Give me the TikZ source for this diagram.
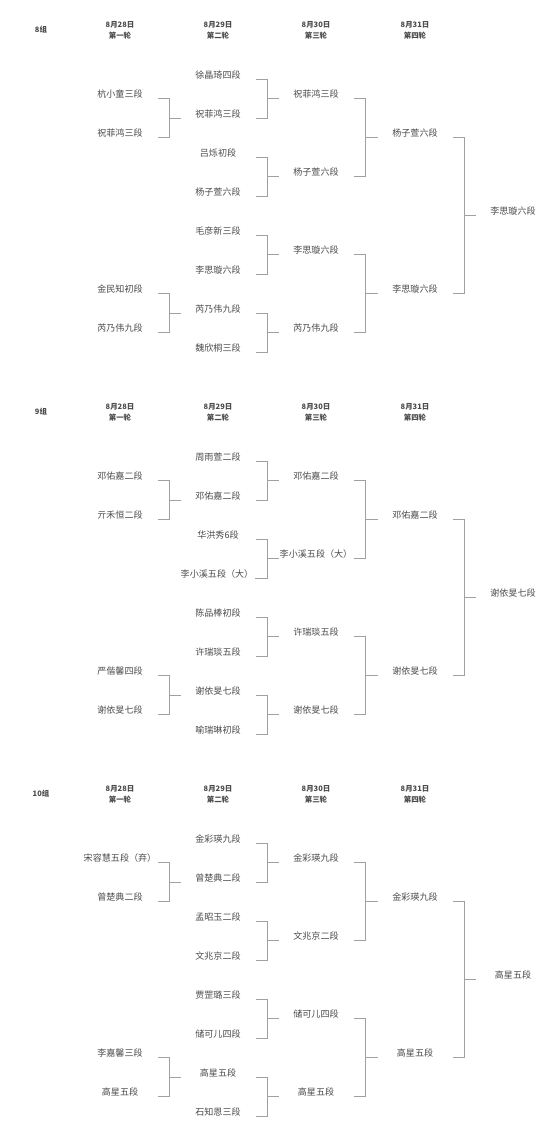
\documentclass[tikz,border=0pt]{standalone}
\usepackage{fontspec}
\newfontfamily\cjk{Noto Sans CJK SC}
\definecolor{txt}{HTML}{4A4A4A}
\definecolor{lnc}{HTML}{A0A0A0}
% player slot: name, column centre x, line y, text
\newcommand\pl[4]{%
  \node[nm] (#1) at (#2,#3-4) {#4};
  \coordinate (#1s) at (#2+38,#3);
  \coordinate (#1w) at (#2-37,#3);}
% bracket: top slot, bottom slot, winner slot
\newcommand\brk[3]{%
  \draw[ln] (#1s) -- ++(11,0) coordinate (#1j) |- (#2s);
  \draw[ln] (#1j |- #3w) -- (#3w);}
\newcommand\hdrs[2]{%
  \node[hd] (#1lab) at (41,30) {#2};
  \node[hd] (#1d1) at (120,25) {8月28日}; \node[hd] (#1n1) at (120,36) {第一轮};
  \node[hd] (#1d2) at (218,25) {8月29日}; \node[hd] (#1n2) at (218,36) {第二轮};
  \node[hd] (#1d3) at (316,25) {8月30日}; \node[hd] (#1n3) at (316,36) {第三轮};
  \node[hd] (#1d4) at (415,25) {8月31日}; \node[hd] (#1n4) at (415,36) {第四轮};}
\newcommand\links[1]{%
  \brk{#1a1}{#1a2}{#1b2} \brk{#1a3}{#1a4}{#1b7}
  \brk{#1b1}{#1b2}{#1c1} \brk{#1b3}{#1b4}{#1c2}
  \brk{#1b5}{#1b6}{#1c3} \brk{#1b7}{#1b8}{#1c4}
  \brk{#1c1}{#1c2}{#1d1} \brk{#1c3}{#1c4}{#1d2}
  \brk{#1d1}{#1d2}{#1f}}
\begin{document}
\begin{tikzpicture}[x=0.75pt,y=-0.75pt,
  nm/.style={font=\cjk\fontsize{6.8pt}{8pt}\selectfont, text=txt, inner sep=0pt},
  hd/.style={font=\cjk\fontsize{5.6pt}{7pt}\selectfont\bfseries, text=txt, inner sep=0pt},
  ln/.style={draw=lnc, line width=0.6pt}]
\useasboundingbox (0,0) rectangle (550,1137);

% ---------------- group 8
\begin{scope}
\hdrs{g8}{8组}
\pl{g8a1}{120}{98.5}{杭小童三段}
\pl{g8a2}{120}{137.5}{祝菲鸿三段}
\pl{g8a3}{120}{293.5}{金民知初段}
\pl{g8a4}{120}{332.5}{芮乃伟九段}
\pl{g8b1}{218}{79}{徐晶琦四段}
\pl{g8b2}{218}{118}{祝菲鸿三段}
\pl{g8b3}{218}{157}{吕烁初段}
\pl{g8b4}{218}{196}{杨子萱六段}
\pl{g8b5}{218}{235}{毛彦新三段}
\pl{g8b6}{218}{274}{李思璇六段}
\pl{g8b7}{218}{313}{芮乃伟九段}
\pl{g8b8}{218}{352}{魏欣桐三段}
\pl{g8c1}{316}{98.5}{祝菲鸿三段}
\pl{g8c2}{316}{176.5}{杨子萱六段}
\pl{g8c3}{316}{254.5}{李思璇六段}
\pl{g8c4}{316}{332.5}{芮乃伟九段}
\pl{g8d1}{415}{137.5}{杨子萱六段}
\pl{g8d2}{415}{293.5}{李思璇六段}
\pl{g8f}{513}{215.5}{李思璇六段}
\links{g8}
\end{scope}

% ---------------- group 9
\begin{scope}[yshift=-286.5pt]
\hdrs{g9}{9组}
\pl{g9a1}{120}{98.5}{邓佑嘉二段}
\pl{g9a2}{120}{137.5}{亓禾恒二段}
\pl{g9a3}{120}{293.5}{严偕馨四段}
\pl{g9a4}{120}{332.5}{谢依旻七段}
\pl{g9b1}{218}{79}{周雨萱二段}
\pl{g9b2}{218}{118}{邓佑嘉二段}
\pl{g9b3}{218}{157}{华洪秀6段}
\pl{g9b4}{217}{196}{李小溪五段（大）}
\pl{g9b5}{218}{235}{陈品棒初段}
\pl{g9b6}{218}{274}{许瑞琰五段}
\pl{g9b7}{218}{313}{谢依旻七段}
\pl{g9b8}{218}{352}{喻瑞琳初段}
\pl{g9c1}{316}{98.5}{邓佑嘉二段}
\pl{g9c2}{316}{176.5}{李小溪五段（大）}
\pl{g9c3}{316}{254.5}{许瑞琰五段}
\pl{g9c4}{316}{332.5}{谢依旻七段}
\pl{g9d1}{415}{137.5}{邓佑嘉二段}
\pl{g9d2}{415}{293.5}{谢依旻七段}
\pl{g9f}{513}{215.5}{谢依旻七段}
\links{g9}
\end{scope}

% ---------------- group 10
\begin{scope}[yshift=-573pt]
\hdrs{g10}{10组}
\pl{g10a1}{120}{98.5}{宋容慧五段（弃）}
\pl{g10a2}{120}{137.5}{曾楚典二段}
\pl{g10a3}{120}{293.5}{李嘉馨三段}
\pl{g10a4}{120}{332.5}{高星五段}
\pl{g10b1}{218}{79}{金彩瑛九段}
\pl{g10b2}{218}{118}{曾楚典二段}
\pl{g10b3}{218}{157}{孟昭玉二段}
\pl{g10b4}{218}{196}{文兆京二段}
\pl{g10b5}{218}{235}{贾罡璐三段}
\pl{g10b6}{218}{274}{储可儿四段}
\pl{g10b7}{218}{313}{高星五段}
\pl{g10b8}{218}{352}{石知恩三段}
\pl{g10c1}{316}{98.5}{金彩瑛九段}
\pl{g10c2}{316}{176.5}{文兆京二段}
\pl{g10c3}{316}{254.5}{储可儿四段}
\pl{g10c4}{316}{332.5}{高星五段}
\pl{g10d1}{415}{137.5}{金彩瑛九段}
\pl{g10d2}{415}{293.5}{高星五段}
\pl{g10f}{513}{215.5}{高星五段}
\links{g10}
\end{scope}
\end{tikzpicture}
\end{document}
